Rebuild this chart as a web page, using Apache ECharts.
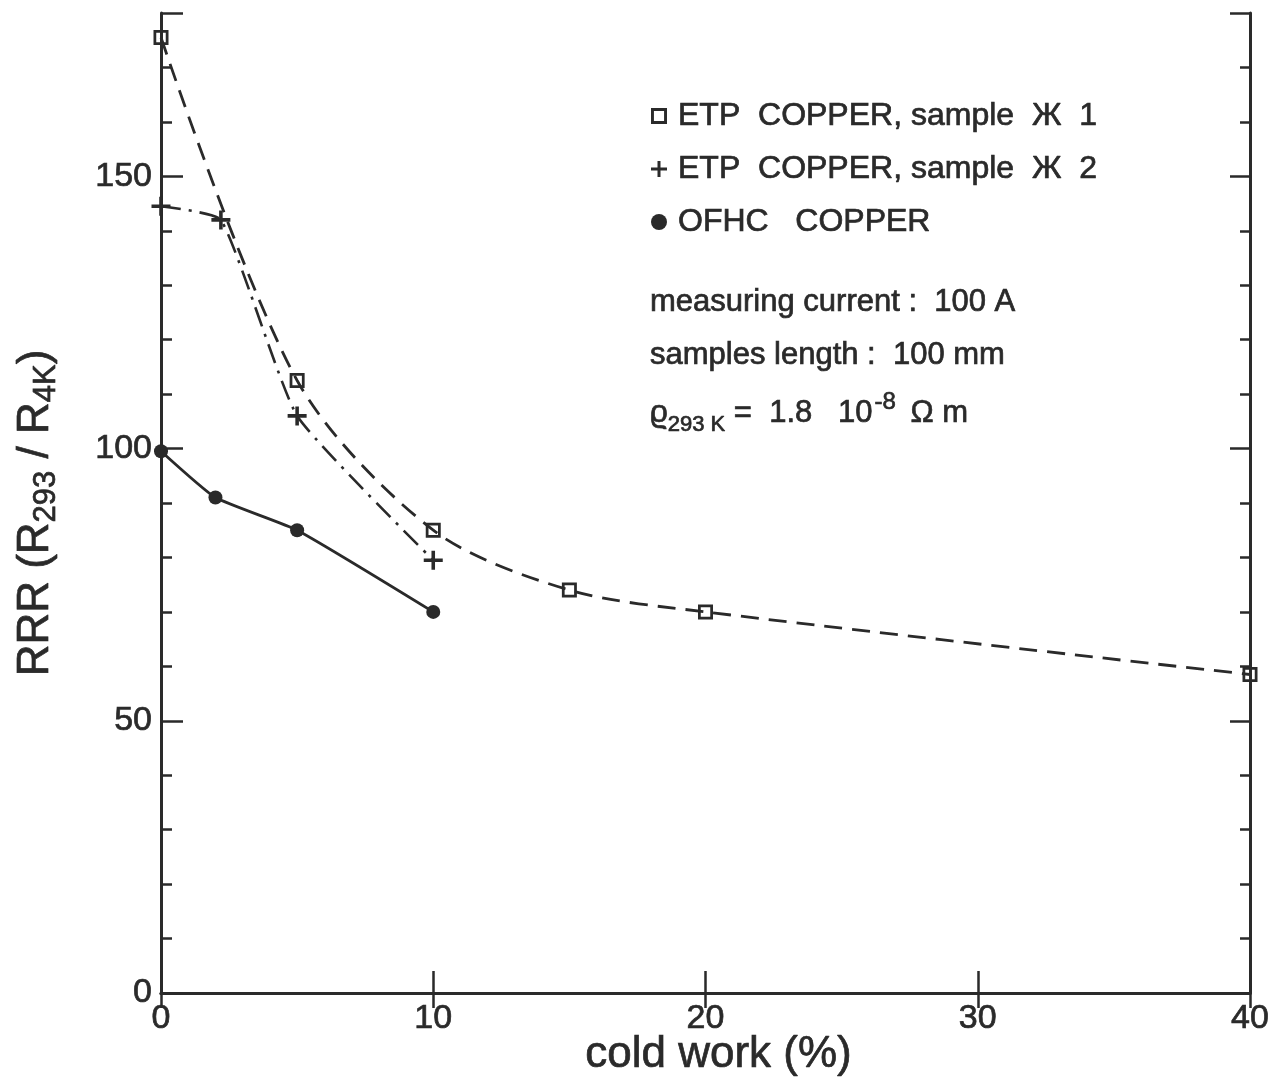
<!DOCTYPE html>
<html>
<head>
<meta charset="utf-8">
<script src="https://cdn.jsdelivr.net/npm/echarts@6/dist/echarts.min.js"></script>
<style>
  html, body { margin: 0; padding: 0; background: #fff; }
  #chart { width: 1284px; height: 1079px; }
</style>
</head>
<body>
<div id="chart"></div>
<script>
// values: RRR vs. cold work (%)
var etp1X = [0, 5, 10, 15, 20, 40];
var etp1Y = [175.5, 112.5, 85, 74, 70, 58.5];
var etp2X = [0, 2.2, 5, 10];
var etp2Y = [144.5, 142, 106, 79.5];
var ofhcX = [0, 2, 5, 10];
var ofhcY = [99.5, 91, 85, 70];

var xTicks = [0, 10, 20, 30, 40];
var yLabels = [0, 50, 100, 150];

var names = ["ETP  COPPER, sample  Ж  1", "ETP  COPPER, sample  Ж  2", "OFHC   COPPER"];

var INK = "#2a2a2a";
var FONT = "Liberation Sans";

function pairs(xs, ys) { return xs.map(function (x, i) { return [x, ys[i]]; }); }
// component text (axis labels, legend): thicken with a thin outline
function txt(o) { return Object.assign({ textBorderColor: INK, textBorderWidth: 0.7 }, o); }
// graphic (zrender) text uses stroke / lineWidth for the outline
function gtxt(o) { return Object.assign({ fill: INK, stroke: INK, lineWidth: 0.7, fontFamily: FONT }, o); }

var plus = "path://M-1.5,-8 L1.5,-8 L1.5,-1.5 L8,-1.5 L8,1.5 L1.5,1.5 L1.5,8 L-1.5,8 L-1.5,1.5 L-8,1.5 L-8,-1.5 L-1.5,-1.5 Z";
var square = "path://M-6,-6 L6,-6 L6,6 L-6,6 Z M-3.8,-3.8 L-3.8,3.8 L3.8,3.8 L3.8,-3.8 Z";

function tickAxis(pos, interval, len, show) {
  return {
    type: "value", position: pos, min: 0, max: 180, interval: interval,
    axisLine: { show: show, lineStyle: { color: INK, width: 3 } },
    axisTick: { show: true, inside: true, length: len, lineStyle: { color: INK, width: 2.5 } },
    axisLabel: { show: false }, splitLine: { show: false }
  };
}

var chart = echarts.init(document.getElementById("chart"));
chart.setOption({
  backgroundColor: "#fff",
  animation: false,
  textStyle: { fontFamily: FONT },
  grid: { left: 161, right: 34, top: 13, bottom: 86, outerBoundsMode: "none", containLabel: false },
  legend: {
    left: 646, top: 94, orient: "vertical", itemGap: 19,
    itemWidth: 16, itemHeight: 16,
    textStyle: txt({ fontFamily: FONT, fontSize: 32, color: INK, padding: [0, 0, 0, 6], lineHeight: 34 }),
    data: [
      { name: names[0], icon: square, itemStyle: { color: INK } },
      { name: names[1], icon: plus, itemStyle: { color: INK } },
      { name: names[2], icon: "circle", itemStyle: { color: INK } }
    ]
  },
  xAxis: [{
    type: "value", position: "bottom", min: 0, max: 40, interval: 10,
    name: "cold work (%)", nameLocation: "middle", nameGap: 40, nameMoveOverlap: false,
    nameTextStyle: txt({ fontSize: 44, color: INK, fontFamily: FONT, padding: [0, 0, 0, 26] }),
    axisLine: { lineStyle: { color: INK, width: 3 } },
    axisTick: { inside: true, length: 22, lineStyle: { color: INK, width: 2.5 } },
    axisLabel: txt({ fontSize: 34, color: INK, margin: 9, fontFamily: FONT,
      formatter: function (v) { return xTicks.indexOf(v) >= 0 ? String(v) : ""; } }),
    splitLine: { show: false }
  }, {
    type: "value", position: "top", min: 0, max: 40, interval: 10,
    axisLine: { lineStyle: { color: INK, width: 3 } },
    axisTick: { inside: true, length: 15, lineStyle: { color: INK, width: 2.5 } },
    axisLabel: { show: false }, splitLine: { show: false }
  }],
  yAxis: [
    {
      type: "value", position: "left", min: 0, max: 180, interval: 10,
      axisLine: { show: true, lineStyle: { color: INK, width: 3 } },
      axisTick: { inside: true, length: 11, lineStyle: { color: INK, width: 2.5 } },
      axisLabel: txt({ fontSize: 34, color: INK, margin: 9, fontFamily: FONT,
        formatter: function (v) { return yLabels.indexOf(v) >= 0 ? String(v) : ""; } }),
      splitLine: { show: false }
    },
    tickAxis("left", 50, 22, false),
    tickAxis("right", 10, 10, true),
    tickAxis("right", 50, 20, false)
  ],
  graphic: [
    {
      type: "text", x: 36, y: 513, rotation: Math.PI / 2,
      style: gtxt({
        text: "{m|RRR (R}{s|293}{m| / R}{s|4K}{m|)}",
        align: "center", verticalAlign: "middle",
        rich: {
          m: gtxt({ fontSize: 44 }),
          s: gtxt({ fontSize: 31, padding: [20, 0, 0, 0] })
        }
      })
    },
    {
      type: "text", x: 650, y: 302,
      style: gtxt({ text: "measuring current :  100 A", fontSize: 31, verticalAlign: "middle" })
    },
    {
      type: "text", x: 650, y: 355,
      style: gtxt({ text: "samples length :  100 mm", fontSize: 31, verticalAlign: "middle" })
    },
    {
      type: "text", x: 650, y: 413,
      style: gtxt({
        text: "{m|ϱ}{s|293 K}{m| =  1.8   10}{p|-8}{m| Ω m}",
        verticalAlign: "middle",
        rich: {
          m: gtxt({ fontSize: 31 }),
          s: gtxt({ fontSize: 22, padding: [24, 0, 0, 0] }),
          p: gtxt({ fontSize: 24, padding: [0, 6, 22, 2] })
        }
      })
    }
  ],
  series: [
    {
      name: names[0], type: "line", smooth: 0.3, data: pairs(etp1X, etp1Y),
      symbol: square, symbolSize: 15, z: 3,
      itemStyle: { color: INK },
      lineStyle: { color: INK, width: 2.8, type: [18, 10] }
    },
    {
      name: names[1], type: "line", smooth: 0.15, data: pairs(etp2X, etp2Y),
      symbol: plus, symbolSize: 19,
      itemStyle: { color: INK },
      lineStyle: { color: INK, width: 2.6, type: [20, 8, 3, 8] }
    },
    {
      name: names[2], type: "line", smooth: 0.15, data: pairs(ofhcX, ofhcY),
      symbol: "circle", symbolSize: 14,
      itemStyle: { color: INK },
      lineStyle: { color: INK, width: 2.8 }
    }
  ]
});
</script>
</body>
</html>
